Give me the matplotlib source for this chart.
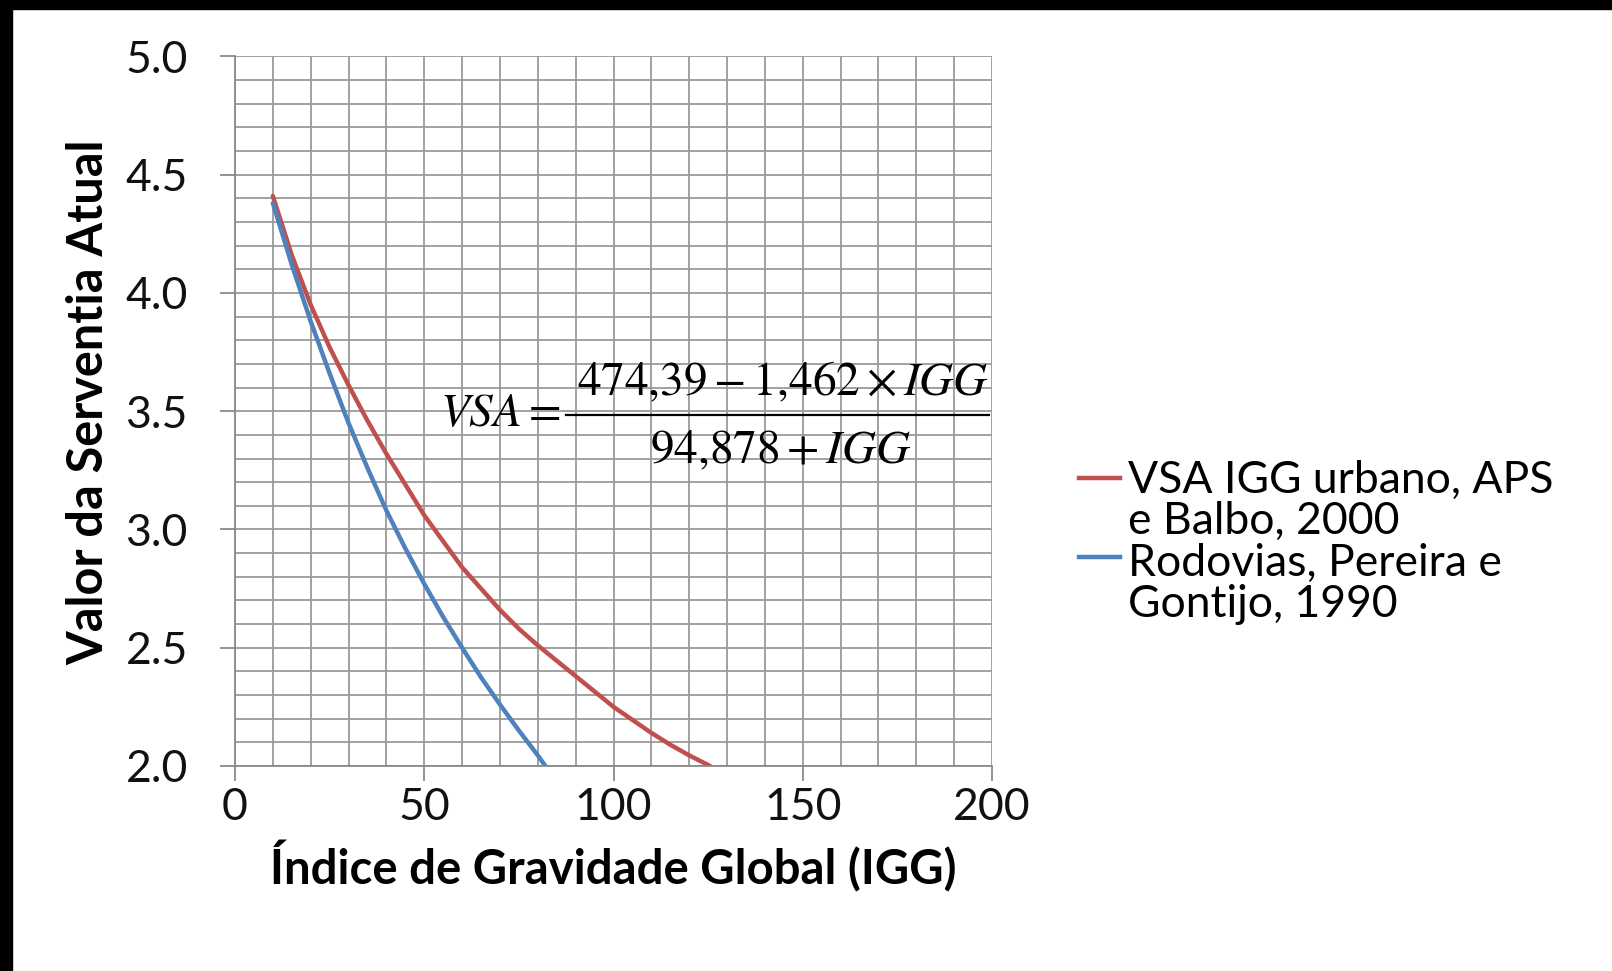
import matplotlib
matplotlib.use('Agg')
import matplotlib.pyplot as plt
from matplotlib.lines import Line2D
from matplotlib.patches import Rectangle
from matplotlib.ticker import MultipleLocator, FormatStrFormatter

# Curve values
igg_urbano = [10, 15, 20, 25, 30, 35, 40, 45, 50, 55, 60, 65, 70, 75, 80,
              85, 90, 95, 100, 105, 110, 115, 120, 125.5]
vsa_urbano = [4.41, 4.16, 3.95, 3.77, 3.61, 3.46, 3.32, 3.19, 3.06, 2.95, 2.84,
              2.75, 2.66, 2.58, 2.51, 2.445, 2.38, 2.315, 2.25, 2.195, 2.14,
              2.09, 2.045, 2.00]

igg_rodovias = [10, 15, 20, 25, 30, 35, 40, 45, 50, 55, 60, 65, 70, 75, 80, 82]
vsa_rodovias = [4.38, 4.12, 3.88, 3.66, 3.45, 3.26, 3.08, 2.92, 2.77, 2.63,
                2.50, 2.375, 2.26, 2.15, 2.045, 2.00]

series_labels = ['VSA IGG urbano, APS\ne Balbo, 2000',
                 'Rodovias, Pereira e\nGontijo, 1990']
series_colors = ['#C0504D', '#4F81BD']

x_ticks = [0, 50, 100, 150, 200]
y_ticks = [2.0, 2.5, 3.0, 3.5, 4.0, 4.5, 5.0]

plt.rcParams['font.family'] = ['Lato', 'DejaVu Sans']
plt.rcParams['mathtext.fontset'] = 'stix'

W, H = 1612, 971
fig = plt.figure(figsize=(W/100, H/100), dpi=100)
ax = fig.add_axes([235/W, 1 - 766/H, (992 - 235)/W, (766 - 56.5)/H])

ax.plot(igg_urbano, vsa_urbano, color=series_colors[0], lw=3.2, solid_capstyle='round')
ax.plot(igg_rodovias, vsa_rodovias, color=series_colors[1], lw=3.2, solid_capstyle='round')

ax.set_xlim(0, 200)
ax.set_ylim(2.0, 5.0)
ax.set_xticks(x_ticks)
ax.set_yticks(y_ticks)
ax.yaxis.set_major_formatter(FormatStrFormatter('%.1f'))
ax.xaxis.set_minor_locator(MultipleLocator(10))
ax.yaxis.set_minor_locator(MultipleLocator(0.1))
ax.grid(True, which='both', color='#9a9a9a', lw=1.3)
ax.set_axisbelow(True)

for s in ['top', 'right']:
    ax.spines[s].set_visible(False)
for s in ['left', 'bottom']:
    ax.spines[s].set_color('#8a8a8a')
    ax.spines[s].set_linewidth(1.3)

ax.tick_params(axis='both', which='major', length=11, width=1.3, color='#8a8a8a',
               labelsize=32, labelcolor='#111111')
ax.tick_params(axis='y', which='major', pad=23)
ax.tick_params(axis='x', which='major', pad=4)
ax.tick_params(which='minor', length=0)

ax.set_xlabel('Índice de Gravidade Global (IGG)', fontsize=34, fontweight='bold', labelpad=9)
ax.set_ylabel('Valor da Serventia Atual', fontsize=35, fontweight='bold', labelpad=10)
ax.yaxis.label.set_y(0.513)

# formula annotation: left side, numerator, bar, denominator
fig.text(440/W, 1 - 413/H, r'$VSA=$', fontsize=34, ha='left', va='center')
fig.add_artist(Line2D([566/W, 989/W], [1 - 415/H, 1 - 415/H], color='black', lw=1.6))
fig.text(783/W, 1 - 382/H, r'$474{,}39-1{,}462\times IGG$', fontsize=34,
         ha='center', va='center')
fig.text(781/W, 1 - 450/H, r'$94{,}878+IGG$', fontsize=34,
         ha='center', va='center')

# legend drawn by hand so each handle sits on the first line of its entry
legend_y = [478, 557]
for col, y in zip(series_colors, legend_y):
    fig.add_artist(Line2D([1079/W, 1120/W], [1 - y/H, 1 - y/H], color=col, lw=3.2))
fig.text(1128/W, 1 - (legend_y[0] - 18)/H, '\n'.join(series_labels), fontsize=32,
         ha='left', va='top', linespacing=1.01)

# black frame edges from the screenshot
fig.add_artist(Rectangle((0, 1 - 9/H), 1, 9/H, transform=fig.transFigure,
                         color='black', zorder=10))
fig.add_artist(Rectangle((0, 0), 12/W, 1, transform=fig.transFigure,
                         color='black', zorder=10))

fig.savefig('out.png', dpi=100)
